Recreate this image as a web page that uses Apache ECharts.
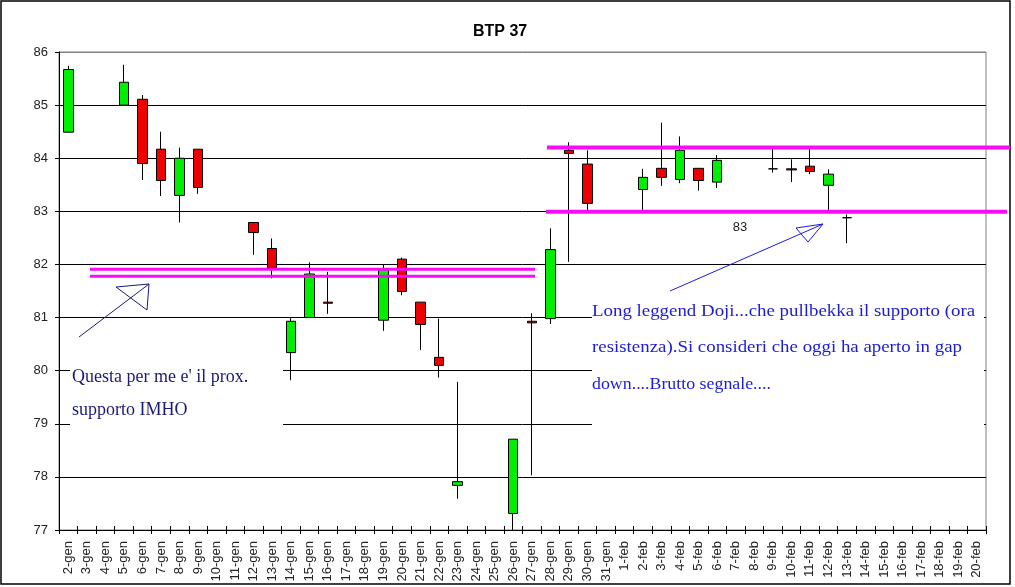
<!DOCTYPE html>
<html>
<head>
<meta charset="utf-8">
<title>BTP 37</title>
<script src="https://cdn.jsdelivr.net/npm/echarts@6/dist/echarts.min.js"></script>
<style>
    html, body { margin: 0; padding: 0; background: #fff; }
    #box { width: 1015px; height: 587px; }
</style>
</head>
<body>
<div id="box"></div>
<script>
// giorni (asse x)
var dates = ['2-gen', '3-gen', '4-gen', '5-gen', '6-gen', '7-gen', '8-gen', '9-gen', '10-gen', '11-gen',
    '12-gen', '13-gen', '14-gen', '15-gen', '16-gen', '17-gen', '18-gen', '19-gen', '20-gen', '21-gen',
    '22-gen', '23-gen', '24-gen', '25-gen', '26-gen', '27-gen', '28-gen', '29-gen', '30-gen', '31-gen',
    '1-feb', '2-feb', '3-feb', '4-feb', '5-feb', '6-feb', '7-feb', '8-feb', '9-feb', '10-feb',
    '11-feb', '12-feb', '13-feb', '14-feb', '15-feb', '16-feb', '17-feb', '18-feb', '19-feb', '20-feb'];

// apertura / chiusura / minimo / massimo (null = nessuna seduta)
var openV = [84.49, null, null, 85.00, 85.11, 84.17, 83.30, 84.17, null, null,
    82.79, 82.30, 80.34, 81.00, 81.29, null, null, 80.95, 82.10, 81.29,
    80.25, 77.84, null, null, 77.31, 80.93, 80.98, 84.15, 83.89, null,
    null, 83.41, 83.81, 83.60, 83.81, 83.55, null, null, 83.80, 83.80,
    83.85, 83.49, 82.88, null, null, null, null, null, null, null];
var closeV = [85.67, null, null, 85.43, 83.90, 83.58, 84.00, 83.45, null, null,
    82.60, 81.93, 80.93, 81.82, 81.27, null, null, 81.90, 81.49, 80.87,
    80.10, 77.91, null, null, 78.71, 80.90, 82.28, 84.09, 83.15, null,
    null, 83.64, 83.64, 84.15, 83.58, 83.96, null, null, 83.80, 83.78,
    83.75, 83.70, 82.88, null, null, null, null, null, null, null];
var lowV = [84.49, null, null, 85.00, 83.59, 83.29, 82.79, 83.33, null, null,
    82.18, 81.74, 79.82, 81.00, 81.07, null, null, 80.75, 81.42, 80.39,
    79.87, 77.59, null, null, 77.00, 78.03, 80.88, 82.05, 83.02, null,
    null, 83.02, 83.48, 83.53, 83.39, 83.44, null, null, 83.73, 83.55,
    83.70, 83.02, 82.40, null, null, null, null, null, null, null];
var highV = [85.74, null, null, 85.76, 85.19, 84.50, 84.20, 84.17, null, null,
    82.79, 82.49, 80.99, 82.04, 81.86, null, null, 82.00, 82.13, 81.29,
    80.98, 79.79, null, null, 78.71, 81.08, 82.68, 84.30, 84.15, null,
    null, 83.80, 84.67, 84.41, 83.81, 84.06, null, null, 84.18, 83.98,
    84.18, 83.79, 82.94, null, null, null, null, null, null, null];

// livelli disegnati a mano
var supportLeft = [81.91, 81.78];
var bandRight = [84.20, 82.99];
var levelLabel = '83';

window.onload = function () {
    var charts = echarts.init(document.getElementById('box'));

    var candles = [];
    for (var i = 0; i < dates.length; i++) {
        if (openV[i] === null) {
            candles.push('-');
        } else {
            candles.push([openV[i], closeV[i], lowV[i], highV[i]]);
        }
    }

    var font = 'Liberation Sans, Arial, sans-serif';
    var gridLineColors = ['#000', '#000', '#000', '#000', '#000', '#000', '#000', '#000', '#000', '#808080'];

    var option = {
        animation: false,
        backgroundColor: '#fff',
        title: {
            text: 'BTP 37',
            left: 468,
            top: 19,
            textStyle: { fontFamily: font, fontSize: 16, fontWeight: 'bold', color: '#000' }
        },
        grid: {
            left: 59, right: 29, top: 52, bottom: 57,
            show: true, borderColor: '#808080', borderWidth: 1
        },
        xAxis: [{
            type: 'category',
            position: 'bottom',
            data: dates,
            boundaryGap: true,
            axisLine: { lineStyle: { color: '#000', width: 1 } },
            axisTick: { show: true, length: 4, interval: 0, lineStyle: { color: '#000' } },
            axisLabel: { interval: 0, rotate: 90, margin: 11, fontFamily: font, fontSize: 13, color: '#222' },
            splitLine: { show: false }
        }, {
            type: 'category',
            position: 'bottom',
            data: dates,
            boundaryGap: true,
            axisLine: { show: false },
            axisTick: { show: true, inside: true, length: 4, interval: 0, lineStyle: { color: '#000' } },
            axisLabel: { show: false },
            splitLine: { show: false }
        }],
        yAxis: {
            type: 'value',
            min: 77,
            max: 86,
            interval: 1,
            axisLine: { show: true, lineStyle: { color: '#000' } },
            axisTick: { show: true, length: 4, lineStyle: { color: '#000' } },
            axisLabel: { margin: 11, fontFamily: font, fontSize: 13, color: '#222' },
            splitLine: { show: true, lineStyle: { color: gridLineColors, width: 1 } }
        },
        series: [{
            type: 'candlestick',
            data: candles,
            barWidth: 10,
            itemStyle: {
                color: '#00ee00',
                color0: '#ee0000',
                borderColor: '#000',
                borderColor0: '#000',
                borderColorDoji: '#000',
                borderWidth: 1
            }
        }]
    };

    charts.setOption(option);

    // coordinate dei livelli in pixel
    var yS1 = charts.convertToPixel({ yAxisIndex: 0 }, supportLeft[0]);
    var yS2 = charts.convertToPixel({ yAxisIndex: 0 }, supportLeft[1]);
    var yR1 = charts.convertToPixel({ yAxisIndex: 0 }, bandRight[0]);
    var yR2 = charts.convertToPixel({ yAxisIndex: 0 }, bandRight[1]);

    var magenta = '#f80cf8';
    var navy = '#1a1a78';
    var blue = '#1c1cd8';
    var serif = 'Liberation Serif, Times New Roman, serif';

    function note(x, y, txt, color, size, sx) {
        return { type: 'text', z: 101, x: x, y: y, scaleX: sx, originX: 0,
            style: { text: txt, fill: color, font: size + 'px ' + serif, verticalAlign: 'middle' } };
    }

    var graphic = [
        // cornice esterna
        { type: 'rect', z: 100, silent: true, shape: { x: 1, y: 1, width: 1009, height: 583 },
            style: { fill: 'none', stroke: '#000', lineWidth: 1.5 } },
        // riquadri di testo
        { type: 'rect', z: 100, silent: true, shape: { x: 70, y: 345, width: 213, height: 100 },
            style: { fill: '#fff' } },
        { type: 'rect', z: 100, silent: true, shape: { x: 592, y: 296, width: 392, height: 150 },
            style: { fill: '#fff' } },
        note(72, 377, "Questa per me e' il prox.", navy, 18, 1),
        note(72, 410, 'supporto IMHO', navy, 18, 1),
        note(592, 312, 'Long leggend Doji...che pullbekka il supporto (ora', blue, 17, 1.11),
        note(592, 348, 'resistenza).Si consideri che oggi ha aperto in gap', blue, 17, 1.11),
        note(592, 385, 'down....Brutto segnale....', blue, 17, 1.05),
        { type: 'text', z: 101, x: 740, y: 227, style: { text: levelLabel, fill: '#222', font: '13px ' + font, align: 'center', verticalAlign: 'middle' } },
        // linee magenta
        { type: 'line', z: 102, silent: true, shape: { x1: 90, y1: yS1, x2: 535, y2: yS1 }, style: { stroke: magenta, lineWidth: 3 } },
        { type: 'line', z: 102, silent: true, shape: { x1: 90, y1: yS2, x2: 535, y2: yS2 }, style: { stroke: magenta, lineWidth: 3 } },
        { type: 'line', z: 102, silent: true, shape: { x1: 547, y1: yR1, x2: 1010, y2: yR1 }, style: { stroke: magenta, lineWidth: 4 } },
        { type: 'line', z: 102, silent: true, shape: { x1: 546, y1: yR2, x2: 1007, y2: yR2 }, style: { stroke: magenta, lineWidth: 4 } },
        // frecce
        { type: 'line', z: 102, silent: true, shape: { x1: 79, y1: 337, x2: 149, y2: 284 }, style: { stroke: navy, lineWidth: 1 } },
        { type: 'polygon', z: 102, silent: true, shape: { points: [[149, 284], [116, 287], [147, 310]] }, style: { fill: 'none', stroke: navy, lineWidth: 1 } },
        { type: 'line', z: 102, silent: true, shape: { x1: 670, y1: 291, x2: 823, y2: 224 }, style: { stroke: blue, lineWidth: 1 } },
        { type: 'polygon', z: 102, silent: true, shape: { points: [[823, 224], [796, 228], [808, 242]] }, style: { fill: 'none', stroke: blue, lineWidth: 1 } }
    ];

    charts.setOption({ graphic: graphic });
};
</script>
</body>
</html>
